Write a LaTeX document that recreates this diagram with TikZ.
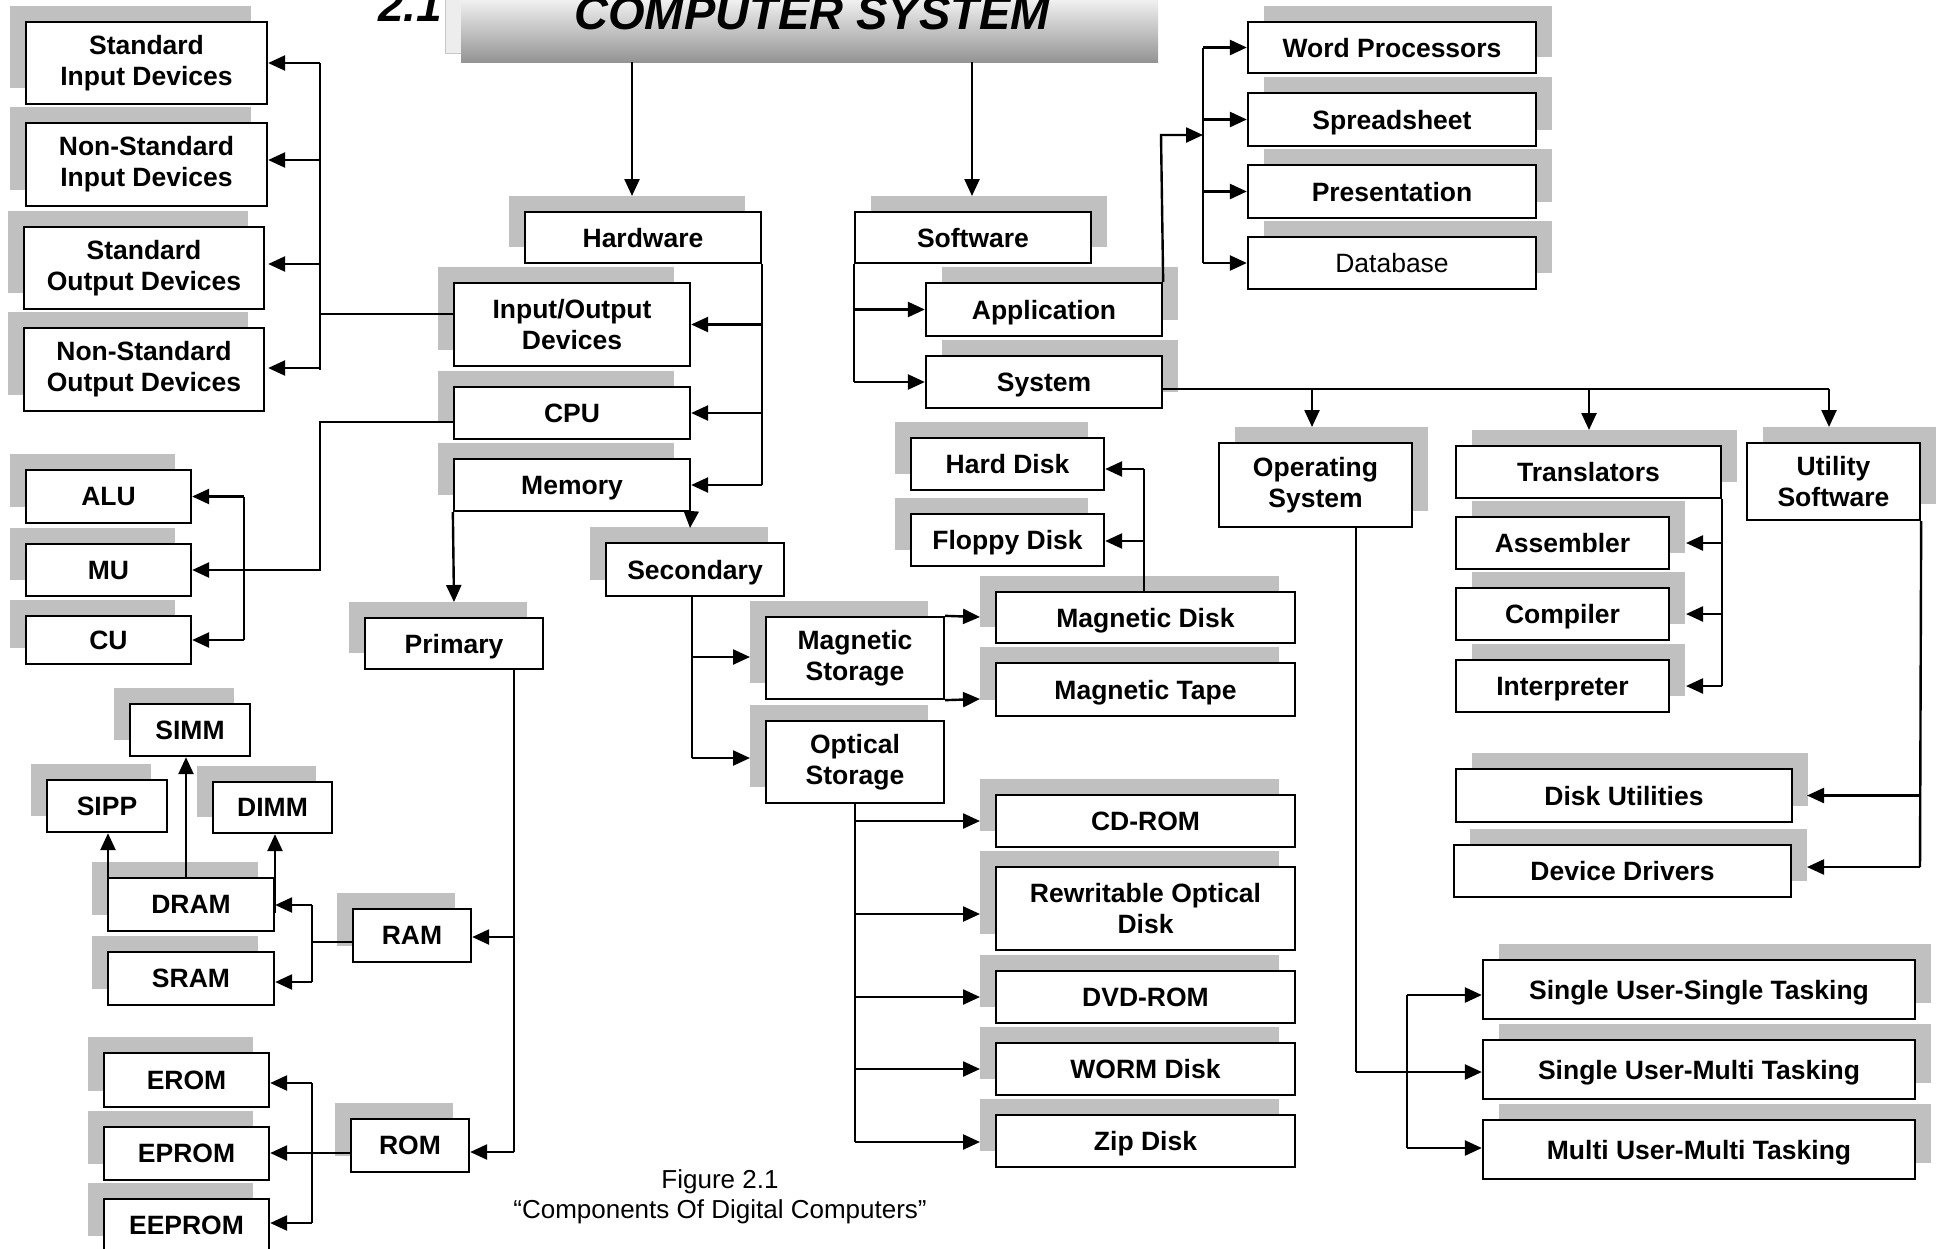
\documentclass[tikz,border=0pt]{standalone}
\usepackage{fontspec}
\setmainfont{Liberation Sans}
\usetikzlibrary{arrows.meta,shadows}
\definecolor{shadowc}{RGB}{192,192,192}
\begin{document}
\begin{tikzpicture}[x=1pt,y=-1pt,
  box/.style={draw=black, line width=2.3pt, fill=white, inner sep=0pt, align=center,
    font=\fontsize{26.5pt}{31pt}\selectfont\bfseries},
  hwb/.style={box, drop shadow={shadow xshift=-16pt, shadow yshift=16pt, fill=shadowc, opacity=1}},
  swb/.style={box, drop shadow={shadow xshift=16pt, shadow yshift=16pt, fill=shadowc, opacity=1}},
  one/.style={text depth=0pt},
  sz/.style 2 args={minimum width=#1pt, minimum height=#2pt},
  ln/.style={line width=2.4pt},
  tl/.style={line width=1.7pt},
  arr/.style={line width=2.4pt, -{Triangle[length=17pt,width=15pt]}},
]
\useasboundingbox (0,0) rectangle (1942,1248);

% ---------- title ----------
\node[fill=black!7, draw=black!22, line width=1pt, sz={697}{63}] (titlebk) at (793.5,21.5) {};
\node[inner sep=0pt, top color=white, bottom color=black!42, sz={697}{72}] (title) at (809.5,26) {};
\node[anchor=base, inner sep=0pt, font=\fontsize{47pt}{50pt}\selectfont\bfseries\itshape] (ttl) at (812,29) {COMPUTER SYSTEM};
\node[anchor=base west, inner sep=0pt, font=\fontsize{46pt}{50pt}\selectfont\bfseries\itshape] (num) at (378,21) {2.1};

% ---------- hardware side ----------
\node[hwb, sz={241}{82}] (sid) at (146.5,63) {Standard\\Input Devices};
\node[hwb, sz={241}{83}] (nsid) at (146.5,164.5) {Non-Standard\\Input Devices};
\node[hwb, sz={240}{82}] (sod) at (144,268) {Standard\\Output Devices};
\node[hwb, sz={240}{83}] (nsod) at (144,369.5) {Non-Standard\\Output Devices};
\node[hwb, one, sz={236}{51}] (hw) at (643,237.5) {Hardware};
\node[hwb, sz={236}{83}] (io) at (572,324.5) {Input/Output\\Devices};
\node[hwb, one, sz={236}{52}] (cpu) at (572,413) {CPU};
\node[hwb, one, sz={236}{52}] (mem) at (572,485) {Memory};
\node[hwb, one, sz={165}{53}] (alu) at (108.5,496.5) {ALU};
\node[hwb, one, sz={165}{52}] (mu) at (108.5,570) {MU};
\node[hwb, one, sz={165}{48}] (cu) at (108.5,640) {CU};
\node[hwb, one, sz={178}{51}] (prim) at (454,643.5) {Primary};
\node[hwb, one, sz={178}{53}] (sec) at (695,569.5) {Secondary};
\node[hwb, sz={178}{82}] (magst) at (855,658) {Magnetic\\Storage};
\node[hwb, sz={178}{82}] (optst) at (855,762) {Optical\\Storage};
\node[hwb, one, sz={120}{52}] (simm) at (190,730) {SIMM};
\node[hwb, one, sz={120}{52}] (sipp) at (107,806) {SIPP};
\node[hwb, one, sz={119}{51}] (dimm) at (272.5,807.5) {DIMM};
\node[hwb, one, sz={166}{53}] (dram) at (191,904.5) {DRAM};
\node[hwb, one, sz={166}{53}] (sram) at (191,978.5) {SRAM};
\node[hwb, one, sz={118}{53}] (ram) at (412,935.5) {RAM};
\node[hwb, one, sz={118}{53}] (rom) at (410,1145.5) {ROM};
\node[hwb, one, sz={165}{54}] (erom) at (186.5,1080) {EROM};
\node[hwb, one, sz={165}{53}] (eprom) at (186.5,1153.5) {EPROM};
\node[hwb, one, sz={165}{53}] (eeprom) at (186.5,1225.5) {EEPROM};
\node[hwb, one, sz={193}{52}] (hd) at (1007.5,464) {Hard Disk};
\node[hwb, one, sz={193}{52}] (fd) at (1007.5,540) {Floppy Disk};
\node[hwb, one, sz={299}{51}] (md) at (1145.5,617.5) {Magnetic Disk};
\node[hwb, one, sz={299}{53}] (mt) at (1145.5,689.5) {Magnetic Tape};
\node[hwb, one, sz={299}{52}] (cd) at (1145.5,821) {CD-ROM};
\node[hwb, sz={299}{83}] (rw) at (1145.5,908.5) {Rewritable Optical\\Disk};
\node[hwb, one, sz={299}{52}] (dvd) at (1145.5,997) {DVD-ROM};
\node[hwb, one, sz={299}{52}] (worm) at (1145.5,1069) {WORM Disk};
\node[hwb, one, sz={299}{52}] (zip) at (1145.5,1141) {Zip Disk};

% ---------- software side ----------
\node[swb, one, sz={236}{51}] (sw) at (973,237.5) {Software};
\node[swb, one, sz={236}{53}] (app) at (1044,309.5) {Application};
\node[swb, one, sz={236}{52}] (sys) at (1044,382) {System};
\node[swb, one, sz={288}{51}] (wp) at (1392,47.5) {Word Processors};
\node[swb, one, sz={288}{53}] (ss) at (1392,119.5) {Spreadsheet};
\node[swb, one, sz={288}{53}] (pres) at (1392,191.5) {Presentation};
\node[swb, one, sz={288}{52}, font=\fontsize{26.5pt}{31pt}\selectfont] (db) at (1392,263) {Database};
\node[swb, sz={193}{84}] (os) at (1315.5,485) {Operating\\System};
\node[swb, one, sz={265}{52}] (tr) at (1588.5,472) {Translators};
\node[swb, one, sz={213}{52}] (asm) at (1562.5,543) {Assembler};
\node[swb, one, sz={213}{52}] (comp) at (1562.5,614) {Compiler};
\node[swb, one, sz={213}{52}] (interp) at (1562.5,686) {Interpreter};
\node[swb, sz={173}{77}] (ut) at (1833.5,481.5) {Utility\\Software};
\node[swb, one, sz={336}{53}] (du) at (1624,795.5) {Disk Utilities};
\node[swb, one, sz={337}{52}] (dd) at (1622.5,871) {Device Drivers};
\node[swb, one, sz={432}{59}] (sust) at (1699,989.5) {Single User-Single Tasking};
\node[swb, one, sz={432}{59}] (sumt) at (1699,1069.5) {Single User-Multi Tasking};
\node[swb, one, sz={432}{59}] (mumt) at (1699,1149.5) {Multi User-Multi Tasking};

% ---------- caption ----------
\node[anchor=base, inner sep=0pt, font=\fontsize{26pt}{30pt}\selectfont] (cap1) at (720,1188) {Figure 2.1};
\node[anchor=base, inner sep=0pt, font=\fontsize{26pt}{30pt}\selectfont] (cap2) at (720,1218) {“Components Of Digital Computers”};

% ---------- connectors ----------
\coordinate (hwin) at (632,196);
\coordinate (swin) at (972,196);
\draw[arr] (title.south -| hwin) -- (hwin);
\draw[arr] (title.south -| swin) -- (swin);

% hardware bus
\draw[ln] (hw.south east) -- (hw.south east |- mem.east);
\foreach \n in {io,cpu,mem} \draw[arr] (hw.south east |- \n.east) -- (\n.east);

% I/O devices
\coordinate (iobus) at (320,314);
\draw[ln] (io.west |- iobus) -- (iobus);
\draw[ln] (iobus |- sid.east) -- (iobus |- nsod.east);
\draw[arr] (iobus |- sid.east) -- (sid.east);
\coordinate (nsidj) at (320,160);
\draw[arr] (nsidj) -- (nsidj -| sid.east);
\coordinate (sodj) at (320,264);
\draw[arr] (sodj) -- (sodj -| sid.east);
\coordinate (nsodj) at (320,368);
\draw[arr] (nsodj) -- (nsodj -| sid.east);

% CPU
\coordinate (cpuj) at (320,422);
\draw[arr] (cpu.west |- cpuj) -- (cpuj) |- (mu.east);
\coordinate (acbus) at (244,0);
\draw[ln] (acbus |- alu.east) -- (acbus |- cu.east);
\draw[arr] (acbus |- alu.east) -- (alu.east);
\draw[arr] (acbus |- cu.east) -- (cu.east);

% memory
\coordinate (primin) at (454,602);
\draw[arr] (mem.south west) -- (primin);
\coordinate (secin) at (690,528);
\draw[arr] (mem.south east) -- (secin);

% primary
\coordinate (pbus) at (514,0);
\coordinate (romj) at (514,1152);
\draw[tl] (prim.south -| pbus) -- (romj);
\coordinate (ramj) at (514,937);
\draw[arr] (ramj) -- (ramj -| ram.east);
\draw[arr] (romj) -- (romj -| rom.east);

% RAM
\coordinate (rbus) at (312,942);
\coordinate (rtop) at (312,905);
\coordinate (rbot) at (312,982);
\draw[tl] (ram.west |- rbus) -- (rbus);
\draw[ln] (rtop) -- (rbot);
\draw[arr] (rtop) -- (rtop -| dram.east);
\draw[arr] (rbot) -- (rbot -| sram.east);

% DRAM
\coordinate (simmj) at (186,0);
\draw[arr] (dram.north -| simmj) -- (simm.south -| simmj);
\coordinate (sippj) at (108,910);
\draw[arr] (sippj) -- (sippj |- sipp.south);
\coordinate (dimmj) at (275,913);
\draw[arr] (dimmj) -- (dimmj |- dimm.south);

% ROM
\coordinate (obus) at (312,1153);
\coordinate (otop) at (312,1083);
\coordinate (obot) at (312,1223);
\draw[tl] (rom.west |- obus) -- (obus);
\draw[tl] (otop) -- (obot);
\draw[arr] (otop) -- (otop -| erom.east);
\draw[arr] (obus) -- (obus -| eprom.east);
\draw[arr] (obot) -- (obot -| eeprom.east);

% secondary
\coordinate (sbus) at (692,0);
\coordinate (msj) at (692,657);
\coordinate (osj2) at (692,758);
\coordinate (stin) at (750,0);
\draw[ln] (sec.south -| sbus) -- (osj2);
\draw[arr] (msj) -- (msj -| stin);
\draw[arr] (osj2) -- (osj2 -| stin);

% magnetic storage
\coordinate (mdin) at (980,617);
\coordinate (mtin) at (980,699);
\draw[arr] (magst.north east) -- (mdin);
\draw[arr] (magst.south east) -- (mtin);

% magnetic disk
\coordinate (mdbus) at (1144,0);
\coordinate (hdj) at (1144,469);
\coordinate (fdj) at (1144,541);
\draw[tl] (md.north -| mdbus) -- (hdj);
\draw[arr] (hdj) -- (hdj -| hd.east);
\draw[arr] (fdj) -- (fdj -| fd.east);

% optical storage
\coordinate (opin) at (980,0);
\coordinate (zipj) at (855,1142);
\coordinate (rwj) at (855,914);
\draw[ln] (optst.south) -- (zipj);
\draw[arr] (optst.south |- cd.west) -- (cd.west -| opin);
\draw[arr] (rwj) -- (rwj -| opin);
\draw[arr] (optst.south |- dvd.west) -- (dvd.west -| opin);
\draw[arr] (optst.south |- worm.west) -- (worm.west -| opin);
\draw[arr] (zipj) -- (zipj -| opin);

% software
\draw[ln] (sw.south west) -- (sw.south west |- sys.west);
\draw[arr] (sw.south west |- app.west) -- (app.west);
\draw[arr] (sw.south west |- sys.west) -- (sys.west);

% application
\coordinate (apj) at (1161,135);
\coordinate (wbus) at (1203,0);
\draw[arr] (app.north east) -- (apj) -- (apj -| wbus);
\draw[ln] (wbus |- wp.west) -- (wbus |- db.west);
\foreach \n in {wp,ss,pres,db} \draw[arr] (wbus |- \n.west) -- (\n.west);

% system
\coordinate (sysj) at (1162,389);
\coordinate (utj) at (1829,389);
\coordinate (osin) at (1312,427);
\coordinate (trin) at (1589,430);
\coordinate (utin) at (1829,427);
\draw[ln] (sys.east |- sysj) -- (utj);
\draw[arr] (osin |- sysj) -- (osin);
\draw[arr] (trin |- sysj) -- (trin);
\draw[arr] (utj) -- (utin);

% translators
\coordinate (trtip) at (1686,0);
\draw[ln] (tr.south east) -- (tr.south east |- interp.east);
\foreach \n in {asm,comp,interp} \draw[arr] (tr.south east |- \n.east) -- (\n.east -| trtip);

% utility
\coordinate (utip) at (1807,0);
\coordinate (ddj) at (1920,867);
\draw[ln] (ut.south east) -- (ddj);
\draw[arr] (ut.south east |- du.east) -- (du.east -| utip);
\draw[arr] (ddj) -- (ddj -| utip);

% operating system
\coordinate (osj) at (1356,1072);
\draw[tl] (os.south -| osj) -- (osj);
\draw[arr] (osj) -- (osj -| sumt.west);
\coordinate (m1) at (1407,995);
\coordinate (m2) at (1407,1148);
\draw[ln] (m1) -- (m2);
\draw[arr] (m1) -- (m1 -| sust.west);
\draw[arr] (m2) -- (m2 -| mumt.west);
\end{tikzpicture}
\end{document}
